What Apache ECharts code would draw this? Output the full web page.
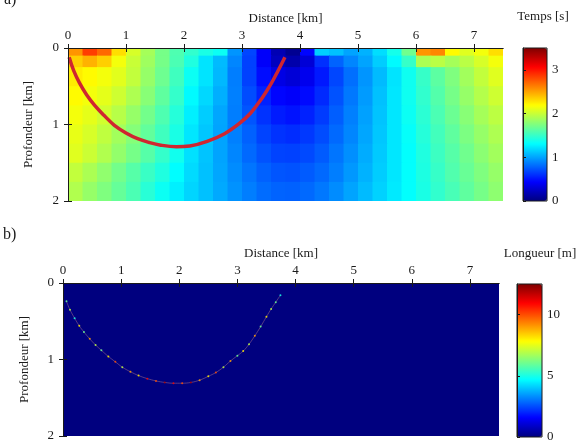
<!DOCTYPE html>
<html>
<head>
<meta charset="utf-8">
<script src="https://cdn.jsdelivr.net/npm/echarts@6/dist/echarts.min.js"></script>
<style>
html, body { margin: 0; padding: 0; background: #fff; }
#container { width: 579px; height: 445px; }
</style>
</head>
<body>
<div id="container"></div>
<script>
// cell edges of the travel-time grid (km)
const xEdges = [0, 0.25, 0.5, 0.75, 1, 1.25, 1.5, 1.75, 2, 2.25, 2.5, 2.75, 3, 3.25, 3.5, 3.75,
  4, 4.25, 4.5, 4.75, 5, 5.25, 5.5, 5.75, 6, 6.25, 6.5, 6.75, 7, 7.25, 7.5]
const depthTop = [0, 0.1, 0.25, 0.5, 0.75, 1, 1.25, 1.5, 1.75]
const depthBottom = [0.1, 0.25, 0.5, 0.75, 1, 1.25, 1.5, 1.75, 2]

// temps de trajet [s], one row per depth band
const travelTime = [
  [2.55, 2.85, 2.7, 2.3, 2.05, 1.88, 1.72, 1.58, 1.48, 1.4, 1.35, 0.95, 0.68, 0.42, 0.18, 0.06, 0.45, 1.15, 1.1, 1.0, 1.05, 1.2, 1.38, 1.7, 2.55, 2.6, 2.2, 2.08, 2.15, 2.3],
  [2.35, 2.45, 2.35, 2.15, 2.0, 1.86, 1.72, 1.57, 1.42, 1.22, 1.08, 0.9, 0.66, 0.42, 0.22, 0.15, 0.3, 0.6, 0.78, 0.9, 1.0, 1.14, 1.3, 1.5, 1.9, 1.95, 1.88, 1.95, 2.05, 2.15],
  [2.25, 2.2, 2.15, 2.09, 1.98, 1.83, 1.69, 1.53, 1.35, 1.22, 1.07, 0.87, 0.66, 0.48, 0.35, 0.3, 0.38, 0.52, 0.68, 0.82, 0.95, 1.08, 1.22, 1.36, 1.5, 1.63, 1.75, 1.87, 1.98, 2.08],
  [2.2, 2.15, 2.1, 2.02, 1.91, 1.78, 1.64, 1.49, 1.3, 1.18, 1.04, 0.88, 0.7, 0.55, 0.45, 0.42, 0.47, 0.58, 0.72, 0.85, 0.97, 1.1, 1.23, 1.36, 1.48, 1.6, 1.72, 1.83, 1.93, 2.02],
  [2.15, 2.1, 2.03, 1.94, 1.83, 1.71, 1.58, 1.44, 1.26, 1.14, 1.01, 0.87, 0.73, 0.61, 0.53, 0.5, 0.55, 0.64, 0.76, 0.88, 0.99, 1.11, 1.23, 1.35, 1.46, 1.57, 1.68, 1.78, 1.88, 1.96],
  [2.11, 2.05, 1.97, 1.87, 1.77, 1.65, 1.53, 1.4, 1.23, 1.12, 1.0, 0.88, 0.77, 0.67, 0.61, 0.59, 0.63, 0.7, 0.8, 0.9, 1.01, 1.12, 1.23, 1.33, 1.44, 1.54, 1.64, 1.74, 1.83, 1.91],
  [2.08, 2.01, 1.92, 1.82, 1.72, 1.61, 1.49, 1.37, 1.21, 1.11, 1.0, 0.9, 0.8, 0.72, 0.67, 0.66, 0.69, 0.75, 0.84, 0.93, 1.03, 1.13, 1.23, 1.32, 1.42, 1.52, 1.61, 1.7, 1.79, 1.87],
  [1.98, 1.9, 1.81, 1.71, 1.61, 1.51, 1.42, 1.31, 1.19, 1.1, 1.01, 0.92, 0.84, 0.77, 0.73, 0.72, 0.75, 0.8, 0.87, 0.96, 1.05, 1.14, 1.23, 1.32, 1.41, 1.5, 1.59, 1.67, 1.75, 1.83],
  [1.92, 1.83, 1.75, 1.66, 1.57, 1.45, 1.35, 1.26, 1.17, 1.1, 1.02, 0.94, 0.87, 0.81, 0.78, 0.77, 0.8, 0.85, 0.92, 1.0, 1.08, 1.16, 1.24, 1.32, 1.4, 1.48, 1.56, 1.64, 1.72, 1.8]
]

// rai sismique, panel a
const rayAX = [0.02, 0.1, 0.2, 0.32, 0.46, 0.62, 0.8, 1.0, 1.2, 1.4, 1.6, 1.87, 2.1, 2.4, 2.7, 2.95, 3.15, 3.35, 3.5, 3.62, 3.74]
const rayAY = [0.12, 0.3, 0.46, 0.61, 0.75, 0.88, 1.01, 1.11, 1.185, 1.235, 1.27, 1.29, 1.28, 1.22, 1.12, 0.99, 0.85, 0.65, 0.47, 0.3, 0.12]

// longueur du rai par cellule, panel b
const lengthBackground = [[0, 7.5, 0, 2, 0]]
const rayBX = [0.06, 0.12, 0.2, 0.28, 0.36, 0.46, 0.56, 0.66, 0.78, 0.9, 1.02, 1.16, 1.3, 1.45, 1.6, 1.75, 1.9, 2.05, 2.2, 2.35, 2.5, 2.63, 2.76, 2.88, 3.0, 3.1, 3.2, 3.3, 3.4, 3.5, 3.58, 3.66, 3.74]
const rayBY = [0.24, 0.35, 0.46, 0.56, 0.64, 0.73, 0.81, 0.88, 0.96, 1.03, 1.1, 1.16, 1.21, 1.25, 1.28, 1.3, 1.31, 1.31, 1.3, 1.27, 1.22, 1.17, 1.1, 1.02, 0.95, 0.89, 0.8, 0.69, 0.57, 0.44, 0.34, 0.25, 0.16]
const rayBLength = [6, 7, 5, 8, 6, 9, 7, 6, 8, 10, 7, 9, 8, 11, 10, 12, 11, 10, 12, 9, 8, 10, 7, 9, 6, 8, 7, 9, 6, 8, 7, 6, 5]

const distanceTicks = [0, 1, 2, 3, 4, 5, 6, 7]
const depthTicks = [0, 1, 2]
const timeTicks = [0, 1, 2, 3]
const lengthTicks = [0, 5, 10]

const jet = ['#00007f', '#0000ff', '#007fff', '#00ffff', '#7fff7f', '#ffff00', '#ff7f00', '#ff0000', '#7f0000']
const font = 'Liberation Serif'
const ink = '#1a1a1a'

let cells = []
travelTime.forEach((row, r) => {
    row.forEach((v, c) => {
        cells.push([xEdges[c], xEdges[c + 1], depthTop[r], depthBottom[r], v])
    })
})

function cellRect(params, api) {
    let p0 = api.coord([api.value(0), api.value(2)])
    let p1 = api.coord([api.value(1), api.value(3)])
    return {
        type: 'rect',
        shape: { x: p0[0], y: p0[1], width: p1[0] - p0[0] + 1, height: p1[1] - p0[1] + 1 },
        style: { fill: api.visual('color') }
    }
}

let lineStyle = { color: ink, width: 1 }

function frameAxes(gridIndex, depthGap) {
    let x = [
        {
            gridIndex, type: 'value', position: 'top', min: 0, max: 7.5, interval: 1, z: 5,
            name: 'Distance [km]', nameLocation: 'middle', nameGap: 23,
            nameTextStyle: { fontFamily: font, fontSize: 13, color: ink },
            axisLine: { show: true, lineStyle },
            axisTick: { show: true, length: 4, customValues: distanceTicks, lineStyle },
            axisLabel: { margin: 6, customValues: distanceTicks, fontFamily: font, fontSize: 13, color: ink },
            splitLine: { show: false }
        },
        {
            gridIndex, type: 'value', position: 'bottom', min: 0, max: 7.5, interval: 1, z: 5,
            axisLine: { show: true, lineStyle },
            axisTick: { show: true, length: 4, customValues: distanceTicks, lineStyle },
            axisLabel: { show: false },
            splitLine: { show: false }
        }
    ]
    let y = [
        {
            gridIndex, type: 'value', position: 'left', min: 0, max: 2, interval: 1, inverse: true, z: 5,
            name: 'Profondeur [km]', nameLocation: 'middle', nameGap: depthGap,
            nameTextStyle: { fontFamily: font, fontSize: 13, color: ink },
            axisLine: { show: true, lineStyle },
            axisTick: { show: true, length: 4, customValues: depthTicks, lineStyle },
            axisLabel: { margin: 9, customValues: depthTicks, fontFamily: font, fontSize: 13, color: ink },
            splitLine: { show: false }
        },
        {
            gridIndex, type: 'value', position: 'right', min: 0, max: 2, interval: 1, inverse: true, z: 5,
            axisLine: { show: true, lineStyle },
            axisTick: { show: true, length: 4, customValues: depthTicks, lineStyle },
            axisLabel: { show: false },
            splitLine: { show: false }
        }
    ]
    return { x, y }
}

function colorbarAxes(gridIndex, max, interval, ticks) {
    return {
        x: { gridIndex, type: 'value', show: false, min: 0, max: 1 },
        y: {
            gridIndex, type: 'value', position: 'right', min: 0, max, interval, z: 5,
            axisLine: { show: true, lineStyle },
            axisTick: { show: true, length: 3, customValues: ticks, lineStyle },
            axisLabel: { margin: 5, customValues: ticks, fontFamily: font, fontSize: 13, color: ink },
            splitLine: { show: false }
        }
    }
}

let fa = frameAxes(0, 33)
let ca = colorbarAxes(1, 3.5, 1, timeTicks)
let fb = frameAxes(2, 31.5)
let cb = colorbarAxes(3, 12.5, 5, lengthTicks)

let options = {
    animation: false,
    textStyle: { fontFamily: font },
    grid: [
        { left: 68, top: 48, width: 435, height: 153 },
        { left: 523, top: 48, width: 24, height: 153, show: true, borderColor: ink, borderWidth: 1, z: 6 },
        { left: 63, top: 283, width: 436, height: 153 },
        { left: 517, top: 284, width: 25, height: 153, show: true, borderColor: ink, borderWidth: 1, z: 6 }
    ],
    xAxis: [fa.x[0], fa.x[1], ca.x, fb.x[0], fb.x[1], cb.x],
    yAxis: [fa.y[0], fa.y[1], ca.y, fb.y[0], fb.y[1], cb.y],
    visualMap: [
        {
            type: 'continuous', min: 0, max: 3.5, seriesIndex: 0, dimension: 4,
            left: 523, top: 48, itemWidth: 24, itemHeight: 153, padding: 0,
            calculable: false, hoverLink: false, text: null,
            inRange: { color: jet }
        },
        {
            type: 'continuous', min: 0, max: 12.5, seriesIndex: 2, dimension: 4,
            left: 517, top: 284, itemWidth: 25, itemHeight: 153, padding: 0,
            calculable: false, hoverLink: false, text: null,
            inRange: { color: jet }
        },
        {
            type: 'continuous', min: 0, max: 12.5, seriesIndex: 4, dimension: 2, show: false,
            inRange: { color: jet }
        }
    ],
    graphic: {
        elements: [
            { type: 'text', left: 4, top: -8, style: { text: 'a)', font: '16px "Liberation Serif"', fill: ink } },
            { type: 'text', left: 3, top: 227, style: { text: 'b)', font: '16px "Liberation Serif"', fill: ink } },
            { type: 'text', x: 543, y: 17, style: { text: 'Temps [s]', font: '13px "Liberation Serif"', fill: ink, align: 'center', verticalAlign: 'middle' } },
            { type: 'text', x: 540, y: 254, style: { text: 'Longueur [m]', font: '13px "Liberation Serif"', fill: ink, align: 'center', verticalAlign: 'middle' } }
        ]
    },
    series: [
        {
            type: 'custom', xAxisIndex: 0, yAxisIndex: 0, renderItem: cellRect, clip: true,
            encode: { x: [0, 1], y: [2, 3] }, data: cells
        },
        {
            type: 'line', xAxisIndex: 0, yAxisIndex: 0, smooth: 0.4, symbol: 'none', z: 3,
            lineStyle: { color: '#cf2630', width: 3.5 },
            data: rayAX.map((x, i) => [x, rayAY[i]])
        },
        {
            type: 'custom', xAxisIndex: 3, yAxisIndex: 3, renderItem: cellRect, clip: true,
            encode: { x: [0, 1], y: [2, 3] }, data: lengthBackground
        },
        {
            type: 'line', xAxisIndex: 3, yAxisIndex: 3, smooth: 0.4, symbol: 'none', z: 3,
            lineStyle: { color: '#9a6a8a', width: 1, opacity: 0.55 },
            data: rayBX.map((x, i) => [x, rayBY[i]])
        },
        {
            type: 'scatter', xAxisIndex: 3, yAxisIndex: 3, symbolSize: 2, z: 4,
            itemStyle: { opacity: 0.85 },
            data: rayBX.map((x, i) => [x, rayBY[i], rayBLength[i]])
        }
    ]
}

let mychart = echarts.init(document.getElementById('container'))
mychart.setOption(options)
</script>
</body>
</html>
